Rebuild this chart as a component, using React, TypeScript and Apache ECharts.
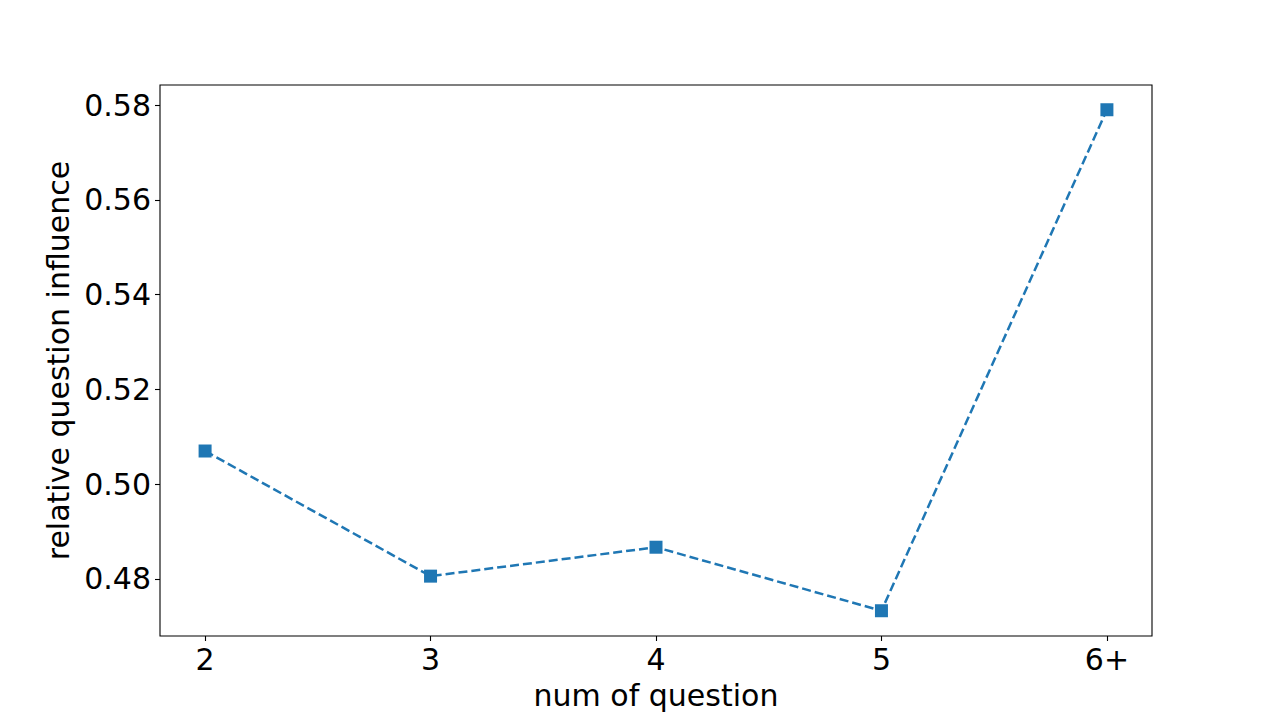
import React, { useEffect, useRef } from "react";
import * as echarts from "echarts";

const categories = ["2", "3", "4", "5", "6+"];
const influence = [0.507, 0.4806, 0.4867, 0.4733, 0.579];
const yTicks = [0.48, 0.5, 0.52, 0.54, 0.56, 0.58];

export default function App() {
  const ref = useRef<HTMLDivElement>(null);
  useEffect(() => {
    if (!ref.current) return;
    const chart = echarts.init(ref.current, null, { renderer: "svg" });
    const font = "DejaVu Sans";
    const idx = categories.map((_, i) => i);
    chart.setOption({
      animation: false,
      grid: { left: 160, right: 128, top: 85, bottom: 79, show: true, borderColor: "#000", borderWidth: 1.1, backgroundColor: "transparent" },
      xAxis: {
        type: "value",
        min: -0.2,
        max: 4.2,
        name: "num of question",
        nameLocation: "middle",
        nameGap: 44,
        nameTextStyle: { fontFamily: font, fontSize: 30, color: "#000" },
        axisLine: { show: false, onZero: false },
        splitLine: { show: false },
        axisTick: { show: true, inside: false, length: 5, customValues: idx, lineStyle: { color: "#000", width: 1.1 } },
        axisLabel: {
          customValues: idx,
          margin: 8,
          fontFamily: font,
          fontSize: 30,
          color: "#000",
          formatter: (v: number) => categories[Math.round(v)] ?? "",
        },
      },
      yAxis: {
        type: "value",
        min: 0.46797,
        max: 0.58422,
        name: "relative question influence",
        nameLocation: "middle",
        nameGap: 82,
        nameTextStyle: { fontFamily: font, fontSize: 30, color: "#000" },
        axisLine: { show: false, onZero: false },
        splitLine: { show: false },
        axisTick: { show: true, inside: false, length: 5, customValues: yTicks, lineStyle: { color: "#000", width: 1.1 } },
        axisLabel: {
          customValues: yTicks,
          margin: 9,
          fontFamily: font,
          fontSize: 30,
          color: "#000",
          formatter: (v: number) => v.toFixed(2),
        },
      },
      series: [
        {
          type: "line",
          data: influence.map((v, i) => [i, v]),
          symbol: "rect",
          symbolSize: 13,
          itemStyle: { color: "#1f77b4" },
          lineStyle: { color: "#1f77b4", width: 2.5, type: [9, 4] },
        },
      ],
    });
    return () => chart.dispose();
  }, []);
  return <div ref={ref} style={{ width: 1280, height: 715, position: "absolute", left: 0, top: 0 }} />;
}
